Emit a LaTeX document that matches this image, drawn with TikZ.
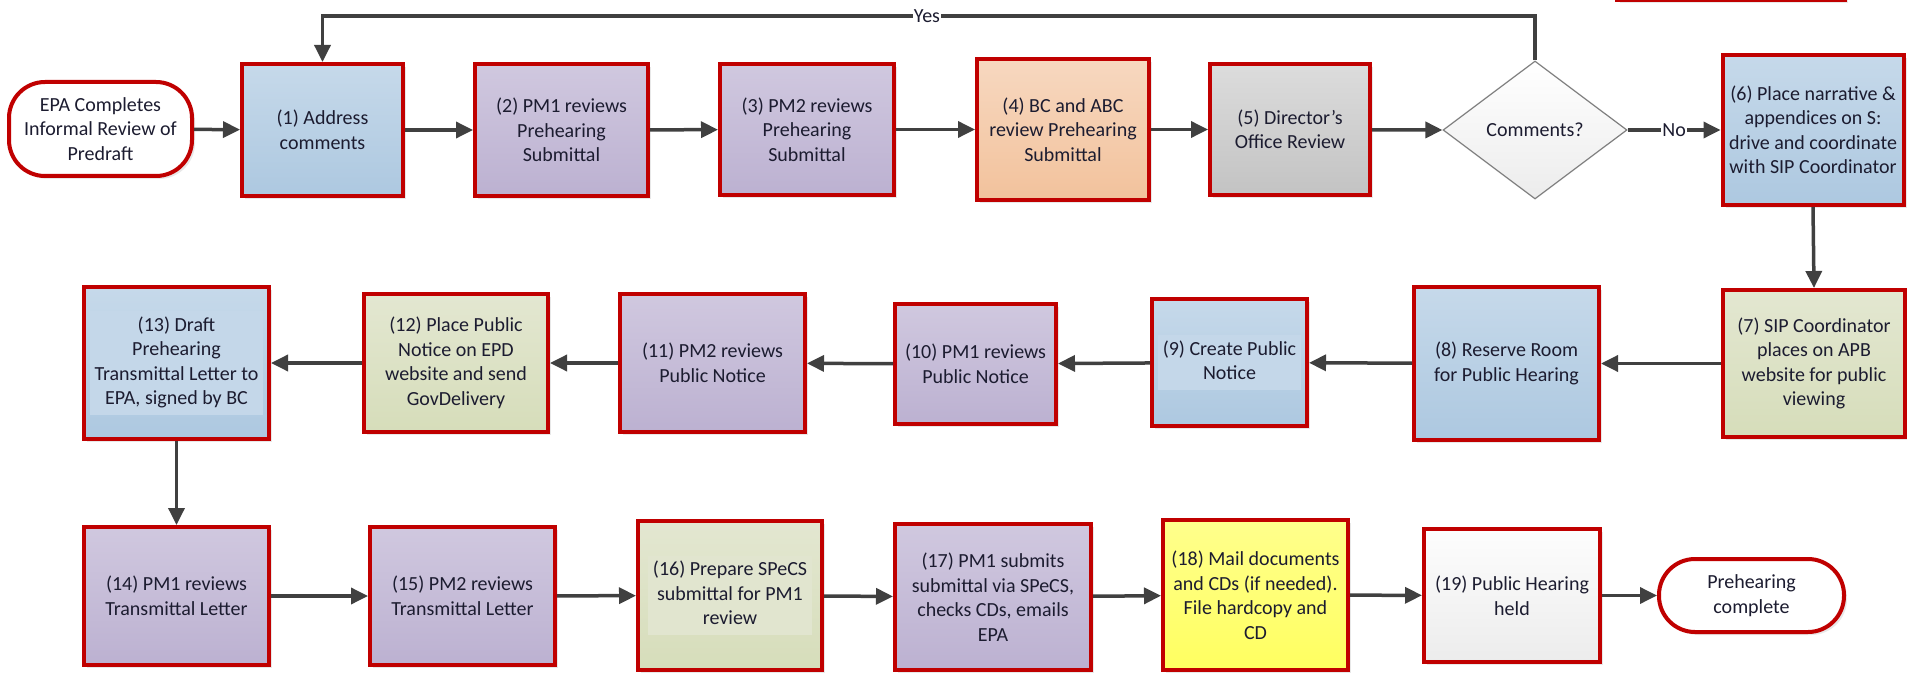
\documentclass[tikz,border=0pt]{standalone}
\usepackage{fontspec}
\setmainfont{Carlito}
\usetikzlibrary{arrows.meta,shapes.geometric,shadows}

\definecolor{bordred}{HTML}{C00000}
\definecolor{ink}{HTML}{1C1C30}
\definecolor{arrowgray}{HTML}{404040}
\definecolor{blueT}{HTML}{C6D9EA}
\definecolor{blueB}{HTML}{ADC8E0}
\definecolor{bluePanel}{HTML}{C4D7E9}
\definecolor{purpT}{HTML}{D0C8DF}
\definecolor{purpB}{HTML}{BCB1D1}
\definecolor{orT}{HTML}{F7D8C0}
\definecolor{orB}{HTML}{F2C29C}
\definecolor{grayT}{HTML}{DCDCDC}
\definecolor{grayB}{HTML}{C3C3C3}
\definecolor{greenT}{HTML}{E3E7D1}
\definecolor{greenB}{HTML}{D6DDBA}
\definecolor{greenPanel}{HTML}{E1E5CF}
\definecolor{yelT}{HTML}{FFFF8C}
\definecolor{yelB}{HTML}{FFFF60}
\definecolor{whT}{HTML}{FDFDFD}
\definecolor{whB}{HTML}{ECECEC}
\definecolor{diaB}{HTML}{7F7F7F}

\newcommand\flowfont{\fontsize{20}{24.5}\selectfont}
% light panel behind a block of centred lines
\newcommand\textpanel[2]{{\setlength\fboxsep{3pt}\colorbox{#1}{%
  \begin{tabular}{@{\hspace{2pt}}c@{\hspace{2pt}}}#2\end{tabular}}}}

\tikzset{
  stepbox/.style={rectangle, draw=bordred, line width=4pt, align=center,
    inner sep=3pt, font=\flowfont, text=ink,
    drop shadow={shadow xshift=3pt, shadow yshift=-3pt, opacity=0.18}},
  fillblue/.style={stepbox, top color=blueT, bottom color=blueB},
  fillpurple/.style={stepbox, top color=purpT, bottom color=purpB},
  fillorange/.style={stepbox, top color=orT, bottom color=orB},
  fillgray/.style={stepbox, top color=grayT, bottom color=grayB},
  fillgreen/.style={stepbox, top color=greenT, bottom color=greenB},
  fillyellow/.style={stepbox, top color=yelT, bottom color=yelB},
  fillwhite/.style={stepbox, top color=whT, bottom color=whB},
  terminal/.style={stepbox, fill=white},
  decision/.style={diamond, draw=diaB, line width=1.2pt, align=center,
    font=\flowfont, text=ink, inner sep=0pt, top color=white, bottom color=whB},
  flow/.style={draw=arrowgray, line width=3.5pt,
    -{Triangle[length=17pt,width=16pt]}},
  flowlabel/.style={fill=white, inner sep=1pt, font=\flowfont, text=ink},
  sz/.style 2 args={minimum width=#1pt-4pt, minimum height=#2pt-4pt},
}

\begin{document}
\begin{tikzpicture}[x=1pt,y=-1pt]
\clip (0,0) rectangle (1907,674);
\fill[white] (0,0) rectangle (1907,674);

% box sitting above the top edge, only its lower border shows
\draw[draw=bordred, line width=4pt, fill=white,
  drop shadow={shadow xshift=3pt, shadow yshift=-3pt, opacity=0.18}]
  (1617,-80) rectangle (1845,0);

% ---------- first row ----------
\node[terminal, rounded corners=36pt, sz={187}{98}] (start) at (100.5,129)
  {EPA Completes\\Informal Review of\\Predraft};
\node[fillblue, sz={165}{136}] (b1) at (322.5,130) {(1) Address\\comments};
\node[fillpurple, sz={177}{136}] (b2) at (561.5,130)
  {(2) PM1 reviews\\Prehearing\\Submittal};
\node[fillpurple, sz={178}{135}] (b3) at (807,129.5)
  {(3) PM2 reviews\\Prehearing\\Submittal};
\node[fillorange, sz={176}{145}] (b4) at (1063,129.5)
  {(4) BC and ABC\\review Prehearing\\Submittal};
\node[fillgray, sz={164}{135}] (b5) at (1290,129.5)
  {(5) Director’s\\Office Review};
\node[decision, minimum width=184pt, minimum height=138pt] (dia) at (1535,130)
  {Comments?};
\node[fillblue, sz={185}{154}] (b6) at (1813,130)
  {(6) Place narrative \&\\appendices on S:\\drive and coordinate\\with SIP Coordinator};

% ---------- second row ----------
\node[fillgreen, sz={186}{151}] (b7) at (1814,363.5)
  {(7) SIP Coordinator\\places on APB\\website for public\\viewing};
\node[fillblue, sz={189}{157}] (b8) at (1506.5,363.5)
  {(8) Reserve Room\\for Public Hearing};
\node[fillblue, sz={159}{131}] (b9) at (1229.5,362.5)
  {\textpanel{bluePanel}{(9) Create Public\\Notice}};
\node[fillpurple, sz={165}{124}] (b10) at (975.5,364)
  {(10) PM1 reviews\\Public Notice};
\node[fillpurple, sz={189}{142}] (b11) at (712.5,363)
  {(11) PM2 reviews\\Public Notice};
\node[fillgreen, sz={188}{142}] (b12) at (456,363)
  {(12) Place Public\\Notice on EPD\\website and send\\GovDelivery};
\node[fillblue, sz={189}{156}, inner sep=1pt] (b13) at (176.5,363)
  {\textpanel{bluePanel}{(13) Draft\\Prehearing\\Transmittal Letter to\\EPA, signed by BC}};

% ---------- third row ----------
\node[fillpurple, sz={189}{142}] (b14) at (176.5,596)
  {(14) PM1 reviews\\Transmittal Letter};
\node[fillpurple, sz={189}{142}] (b15) at (462.5,596)
  {(15) PM2 reviews\\Transmittal Letter};
\node[fillgreen, sz={188}{153}] (b16) at (730,595.5)
  {\textpanel{greenPanel}{(16) Prepare SPeCS\\submittal for PM1\\review}};
\node[fillpurple, sz={200}{150}] (b17) at (993,597)
  {(17) PM1 submits\\submittal via SPeCS,\\checks CDs, emails\\EPA};
\node[fillyellow, sz={189}{154}] (b18) at (1255.5,595)
  {(18) Mail documents\\and CDs (if needed).\\File hardcopy and\\CD};
\node[fillwhite, sz={180}{137}] (b19) at (1512,595.5)
  {(19) Public Hearing\\held};
\node[terminal, rounded corners=36pt, sz={189}{77}] (finish) at (1751.5,595.5)
  {Prehearing\\complete};

% ---------- connectors ----------
\coordinate (yesrow) at (0,16);
\draw[flow] (start) -- (b1);
\draw[flow] (b1) -- (b2);
\draw[flow] (b2) -- (b3);
\draw[flow] (b3) -- (b4);
\draw[flow] (b4) -- (b5);
\draw[flow] (b5) -- (dia.west);
\draw[flow] (dia.east) -- node[flowlabel] {No} (b6.west);
\draw[flow] (dia.north) -- (dia.north |- yesrow) -| (b1.north);
\node[flowlabel] (yes) at (927,16) {Yes};
\draw[flow] (b6.south) -- (b7.north);
\draw[flow] (b7) -- (b8);
\draw[flow] (b8) -- (b9);
\draw[flow] (b9) -- (b10);
\draw[flow] (b10) -- (b11);
\draw[flow] (b11) -- (b12);
\draw[flow] (b12) -- (b13);
\draw[flow] (b13.south) -- (b14.north);
\draw[flow] (b14) -- (b15);
\draw[flow] (b15) -- (b16);
\draw[flow] (b16) -- (b17);
\draw[flow] (b17) -- (b18);
\draw[flow] (b18) -- (b19);
\draw[flow] (b19) -- (finish);
\end{tikzpicture}
\end{document}
